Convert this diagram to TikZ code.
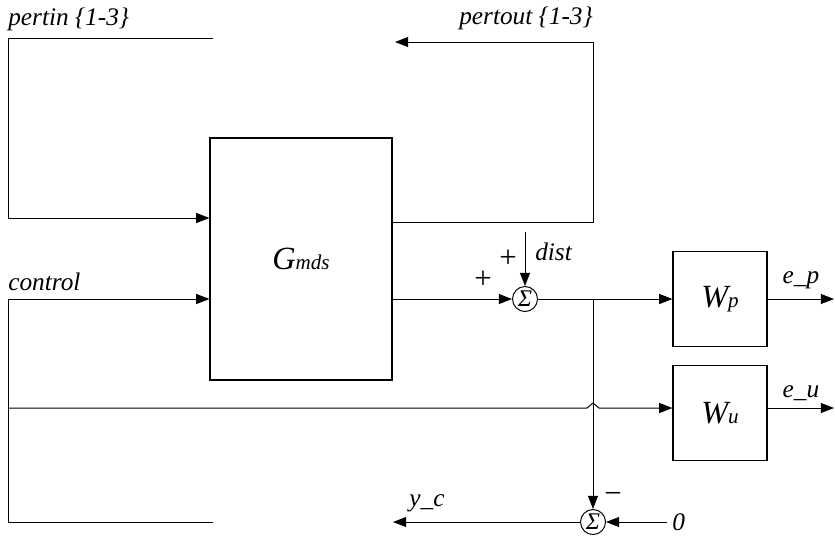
\documentclass[tikz,border=0pt]{standalone}
\usepackage{fontspec}
\setmainfont{Liberation Serif}
\usetikzlibrary{arrows.meta,positioning}

\begin{document}
\begin{tikzpicture}[x=0.025cm, y=-0.025cm,
      bloque/.style={draw, line width=0.8pt, minimum width=2.35cm, minimum height=2.375cm,
                     font=\fontsize{23}{25}\selectfont\itshape},
      suma/.style={draw, circle, line width=0.7pt, minimum size=0.625cm, inner sep=0pt,
                   font=\fontsize{17}{17}\selectfont\itshape},
      senal/.style={line width=0.7pt},
      flecha/.style={senal, -{Triangle[length=3.3mm, width=2.5mm]}},
      etiqueta/.style={font=\fontsize{18}{20}\selectfont\itshape, inner sep=0pt},
      signo/.style={font=\fontsize{22}{22}\selectfont, inner sep=0pt}
    ]
    \useasboundingbox (0,0) rectangle (835,542);

    % bloques y sumadores
    \node[bloque, minimum width=4.55cm, minimum height=6.05cm] (gmds) at (301,259) {G{\fontsize{15}{15}\selectfont mds}};
    \node[bloque] (wp) at (720,299) {W{\fontsize{15}{15}\selectfont p}};
    \node[bloque] (wu) at (720,413) {W{\fontsize{15}{15}\selectfont u}};
    \node[suma] (sumA) at (525,299) {Σ};
    \node[suma] (sumB) at (593,522) {Σ};

    % extremos libres
    \coordinate (pinA) at (213,38);
    \coordinate (pinB) at (8,218);
    \coordinate (poutA) at (593,42);
    \coordinate (poutB) at (395,42);
    \coordinate (ctrl) at (8,299);
    \coordinate (ctrlB) at (213,522);
    \coordinate (rama) at (8,408);
    \coordinate (dist) at (525,232);
    \coordinate (nodo) at (593,299);
    \coordinate (cero) at (667,522);
    \coordinate (yc) at (393,522);
    \coordinate (ep) at (834,299);
    \coordinate (eu) at (834,408);

    % conexiones
    \draw[flecha] (pinA) -| (pinB) -- (gmds.west |- pinB);
    \draw[flecha] (gmds.east |- 0,222) -| (poutA) -- (poutB);
    \draw[flecha] (ctrl) -- (gmds.west |- ctrl);
    \draw[senal] (ctrl) |- (ctrlB);
    \draw[flecha] (rama) -- ++(579,0) -- ++(6,-5) -- ++(6,5) -- (wu.west |- rama);
    \draw[flecha] (gmds.east |- sumA) -- (sumA);
    \draw[flecha] (dist) -- (sumA);
    \draw[flecha] (sumA) -- (wp);
    \draw[flecha] (nodo) -- (sumB);
    \draw[flecha] (cero) -- (sumB);
    \draw[flecha] (sumB) -- (yc);
    \draw[flecha] (wp) -- (ep);
    \draw[flecha] (wu.east |- rama) -- (eu);

    % etiquetas
    \node[etiqueta, anchor=base west] (tpin) at (8,25) {pertin \{1-3\}};
    \node[etiqueta, anchor=base east] (tpout) at (593,24) {pertout \{1-3\}};
    \node[etiqueta, anchor=base west] (tctrl) at (8,290) {control};
    \node[etiqueta, anchor=base west] (tdist) at (535,260) {dist};
    \node[signo] (masA) at (508,259) {+};
    \node[signo] (masB) at (483,280) {+};
    \node[signo] (menos) at (613,498) {−};
    \node[etiqueta] (tyc) at (427,503) {y\_c};
    \node[etiqueta] (tep) at (801,280) {e\_p};
    \node[etiqueta] (teu) at (801,393) {e\_u};
    \node[etiqueta, anchor=west] (tcero) at (672,522) {0};
  \end{tikzpicture}
\end{document}
